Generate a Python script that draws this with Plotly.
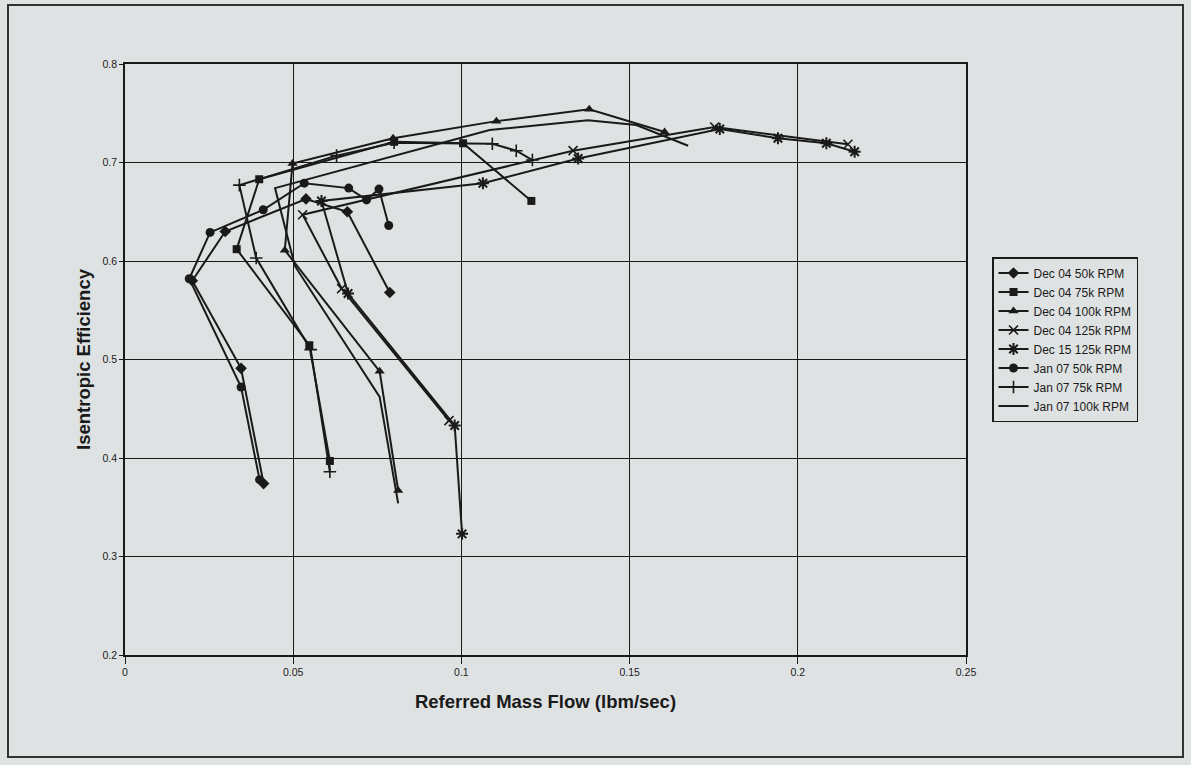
import plotly.graph_objects as go

# Compressor test data: referred mass flow (lbm/sec) vs isentropic efficiency
dec04_50k_x = [0.0412, 0.0345, 0.0200, 0.0298, 0.0538, 0.0661, 0.0787]
dec04_50k_y = [0.374, 0.491, 0.580, 0.630, 0.663, 0.650, 0.568]

dec04_75k_x = [0.0609, 0.0548, 0.0332, 0.0399, 0.0800, 0.1005, 0.1208]
dec04_75k_y = [0.397, 0.5145, 0.612, 0.683, 0.721, 0.7195, 0.661]

dec04_100k_x = [0.0812, 0.0757, 0.0475, 0.0498, 0.0797, 0.1104, 0.1380, 0.1604]
dec04_100k_y = [0.367, 0.488, 0.611, 0.699, 0.7246, 0.742, 0.754, 0.731]

dec04_125k_x = [0.0963, 0.0644, 0.0528, 0.1332, 0.1753, 0.2149]
dec04_125k_y = [0.438, 0.572, 0.647, 0.712, 0.736, 0.7185]

dec15_125k_x = [0.1002, 0.0980, 0.0663, 0.0584, 0.1064, 0.1347, 0.1768, 0.1941, 0.2085, 0.2169]
dec15_125k_y = [0.323, 0.433, 0.567, 0.661, 0.679, 0.704, 0.734, 0.7246, 0.7195, 0.711]

jan07_50k_x = [0.0400, 0.0345, 0.0191, 0.0253, 0.0411, 0.0533, 0.0665, 0.0718, 0.0755, 0.0784]
jan07_50k_y = [0.378, 0.472, 0.582, 0.629, 0.652, 0.679, 0.674, 0.662, 0.673, 0.636]

jan07_75k_x = [0.0609, 0.0552, 0.0390, 0.0340, 0.0629, 0.0800, 0.1092, 0.1163, 0.1211]
jan07_75k_y = [0.386, 0.510, 0.603, 0.677, 0.707, 0.720, 0.719, 0.712, 0.7025]

jan07_100k_x = [0.0812, 0.0757, 0.0505, 0.0446, 0.1084, 0.1376, 0.1520, 0.1674]
jan07_100k_y = [0.354, 0.462, 0.595, 0.674, 0.733, 0.743, 0.738, 0.717]

x_ticks = [0, 0.05, 0.1, 0.15, 0.2, 0.25]
x_tick_text = ["0", "0.05", "0.1", "0.15", "0.2", "0.25"]
y_ticks = [0.2, 0.3, 0.4, 0.5, 0.6, 0.7, 0.8]
y_tick_text = ["0.2", "0.3", "0.4", "0.5", "0.6", "0.7", "0.8"]

INK = "#1a1a1a"
BG = "#dfe2e2"
FONT = "Liberation Sans, Arial, sans-serif"

series = [
    ("Dec 04 50k RPM", dec04_50k_x, dec04_50k_y, dict(symbol="diamond", size=9, color=INK)),
    ("Dec 04 75k RPM", dec04_75k_x, dec04_75k_y, dict(symbol="square", size=8, color=INK)),
    ("Dec 04 100k RPM", dec04_100k_x, dec04_100k_y, dict(symbol="triangle-up", size=9, color=INK)),
    ("Dec 04 125k RPM", dec04_125k_x, dec04_125k_y,
     dict(symbol="x-thin-open", size=9, color=INK, line=dict(width=1.6, color=INK))),
    ("Dec 15 125k RPM", dec15_125k_x, dec15_125k_y,
     dict(symbol="asterisk-open", size=10, color=INK, line=dict(width=2, color=INK))),
    ("Jan 07 50k RPM", jan07_50k_x, jan07_50k_y, dict(symbol="circle", size=9, color=INK)),
    ("Jan 07 75k RPM", jan07_75k_x, jan07_75k_y,
     dict(symbol="cross-thin-open", size=9, color=INK, line=dict(width=1.6, color=INK))),
    ("Jan 07 100k RPM", jan07_100k_x, jan07_100k_y, None),
]

fig = go.Figure()
for name, xs, ys, marker in series:
    if marker is None:
        fig.add_trace(go.Scatter(x=xs, y=ys, name=name, mode="lines",
                                 line=dict(color=INK, width=2)))
    else:
        fig.add_trace(go.Scatter(x=xs, y=ys, name=name, mode="lines+markers",
                                 line=dict(color=INK, width=2), marker=marker))

L, R, T, B = 125, 225, 64, 110
W, H = 1191, 765
pw, ph = W - L - R, H - T - B


def px_x(p):
    return (p - L) / pw


def px_y(p):
    return (H - B - p) / ph


fig.update_layout(
    width=W, height=H,
    margin=dict(l=L, r=R, t=T, b=B),
    paper_bgcolor=BG, plot_bgcolor=BG,
    font=dict(family=FONT, color=INK, size=10),
    showlegend=True,
    legend=dict(
        x=px_x(992), y=px_y(257), xanchor="left", yanchor="top",
        bgcolor=BG, bordercolor=INK, borderwidth=1.5,
        font=dict(family=FONT, size=12, color=INK),
        itemwidth=30, tracegroupgap=0,
    ),
    xaxis=dict(
        range=[0, 0.25], tickvals=x_ticks, ticktext=x_tick_text,
        showgrid=True, gridcolor=INK, gridwidth=1,
        showline=True, linecolor=INK, linewidth=1.5, mirror=True,
        ticks="outside", ticklen=7, tickcolor=INK, zeroline=False,
        tickfont=dict(size=10.5, family=FONT),
        title=dict(text="Referred Mass Flow (lbm/sec)",
                   font=dict(size=18.5, family=FONT, weight="bold"), standoff=18),
    ),
    yaxis=dict(
        range=[0.2, 0.8], tickvals=y_ticks, ticktext=y_tick_text,
        showgrid=True, gridcolor=INK, gridwidth=1,
        showline=True, linecolor=INK, linewidth=1.5, mirror=True,
        ticks="outside", ticklen=4, tickcolor=INK, zeroline=False,
        tickfont=dict(size=10.5, family=FONT),
        title=dict(text="Isentropic Efficiency",
                   font=dict(size=18.5, family=FONT, weight="bold"), standoff=7),
    ),
    shapes=[
        dict(type="rect", xref="paper", yref="paper",
             x0=px_x(8), x1=px_x(1183), y0=px_y(757), y1=px_y(5),
             line=dict(color="#333333", width=2), layer="below"),
    ],
)

fig.write_html("out.html")
